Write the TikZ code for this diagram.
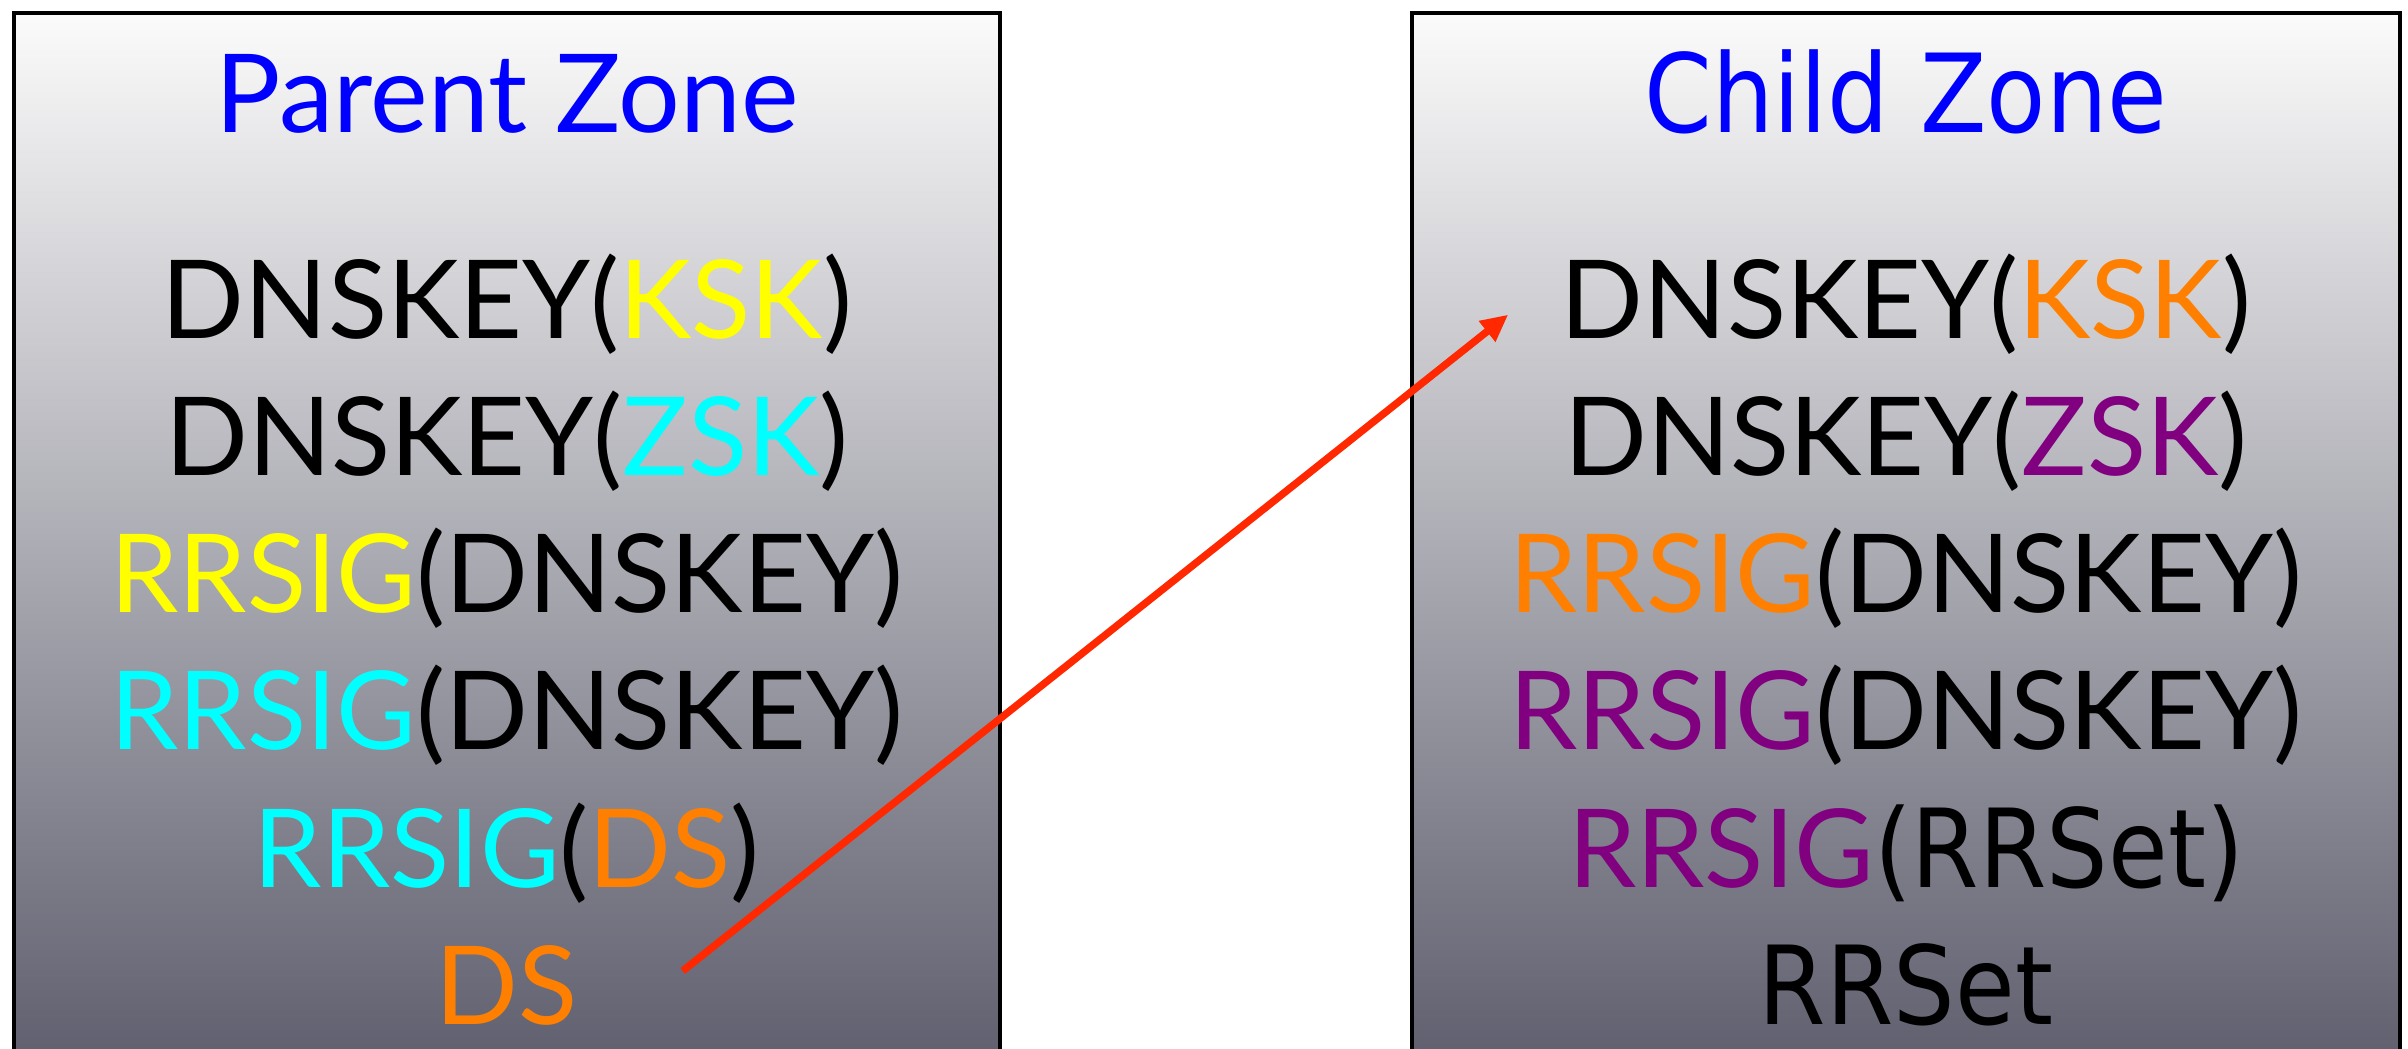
\documentclass[tikz,border=0pt]{standalone}
\usepackage{fontspec}
\usepackage{graphicx}
\setmainfont{Lato}
\newfontfamily\altfont{DejaVu Sans}
\usetikzlibrary{arrows.meta,calc}

\definecolor{zonetop}{RGB}{251,251,251}
\definecolor{zonebot}{RGB}{92,92,108}
\definecolor{titleblue}{RGB}{0,0,255}
\definecolor{kskyellow}{RGB}{255,255,0}
\definecolor{zskcyan}{RGB}{0,255,255}
\definecolor{dsorange}{RGB}{255,128,0}
\definecolor{zskpurple}{RGB}{128,0,128}
\definecolor{linkred}{RGB}{255,40,0}

% narrower humanist face for a few labels
\newcommand\alttext[1]{\scalebox{0.89}[1]{\altfont #1}}

\tikzset{
  zonebox/.style={draw=black, line width=1.2pt, top color=zonetop, bottom color=zonebot},
  rec/.style={anchor=base, inner sep=0pt, font=\fontsize{31}{37}\selectfont},
  linkarrow/.style={draw=linkred, line width=2.1pt,
    -{Triangle[length=0.27cm,width=0.25cm]}}
}

\begin{document}
\begin{tikzpicture}[x=0.01cm,y=-0.01cm]
  \useasboundingbox (0,0) rectangle (2408,1049);
  \clip (0,0) rectangle (2408,1049);

  % zone panels (they run past the lower edge)
  \path[zonebox] (14,13) rectangle (1000,1080);
  \path[zonebox] (1412,13) rectangle (2400,1080);

  % parent zone records
  \node[rec] (ptitle) at (507,133) {\color{titleblue}Parent Zone};
  \node[rec] (pksk)   at (507,339) {DNSKEY(\textcolor{kskyellow}{KSK})};
  \node[rec] (pzsk)   at (507,476) {DNSKEY(\textcolor{zskcyan}{ZSK})};
  \node[rec] (psig1)  at (507,613) {\textcolor{kskyellow}{RRSIG}(DNSKEY)};
  \node[rec] (psig2)  at (507,750) {\textcolor{zskcyan}{RRSIG}(DNSKEY)};
  \node[rec] (psigds) at (507,887) {\textcolor{zskcyan}{RRSIG}(\textcolor{dsorange}{DS})};
  \node[rec] (pds)    at (507,1024) {\textcolor{dsorange}{DS}};

  % child zone records
  \node[rec] (ctitle) at (1906,133) {\color{titleblue}\alttext{Child Zone}};
  \node[rec] (cksk)   at (1906,339) {DNSKEY(\textcolor{dsorange}{KSK})};
  \node[rec] (czsk)   at (1906,476) {DNSKEY(\textcolor{zskpurple}{ZSK})};
  \node[rec] (csig1)  at (1906,613) {\textcolor{dsorange}{RRSIG}(DNSKEY)};
  \node[rec] (csig2)  at (1906,750) {\textcolor{zskpurple}{RRSIG}(DNSKEY)};
  \node[rec] (csigrr) at (1906,887) {\textcolor{zskpurple}{RRSIG}\alttext{(RRSet)}};
  \node[rec] (crr)    at (1906,1024) {\alttext{RRSet}};

  % delegation link: DS in the parent points at the child's KSK
  \coordinate (dsout) at ($(pds.east)+(104,-14)$);
  \coordinate (kskin) at ($(cksk.west)+(-52,10)$);
  \draw[linkarrow] (dsout) -- (kskin);
\end{tikzpicture}
\end{document}
